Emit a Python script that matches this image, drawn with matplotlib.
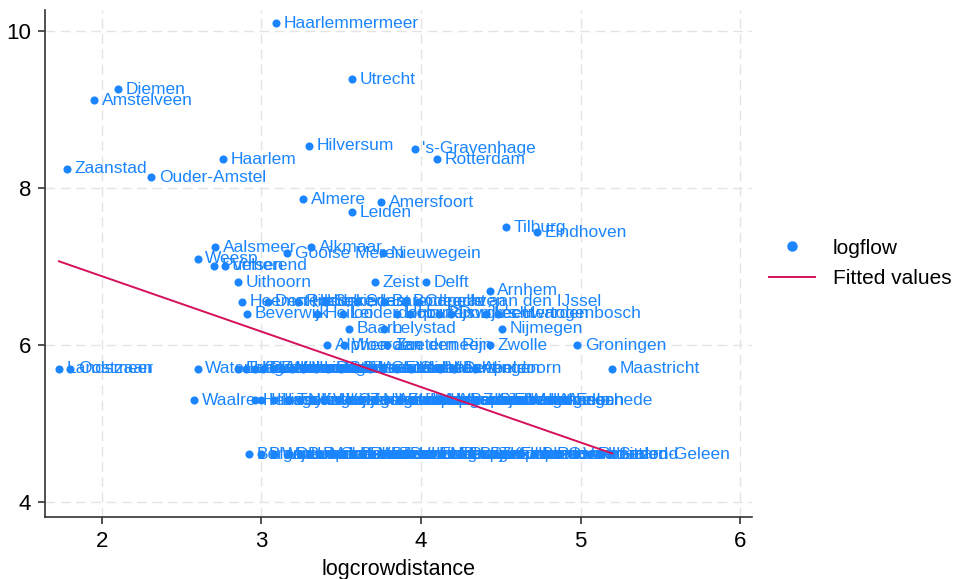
import numpy as np
import matplotlib
matplotlib.use("Agg")
import matplotlib.pyplot as plt
from matplotlib.lines import Line2D

# gemeente, logcrowdistance, logflow
towns = [
    "Haarlemmermeer", "Utrecht", "Diemen", "Amstelveen", "Hilversum",
    "'s-Gravenhage", "Rotterdam", "Haarlem", "Zaanstad", "Ouder-Amstel",
    "Almere", "Amersfoort", "Leiden", "Tilburg", "Eindhoven",
    "Aalsmeer", "Alkmaar", "Gooise Meren", "Nieuwegein", "Weesp",
    "Purmerend", "Velsen", "Uithoorn", "Zeist", "Delft", "Arnhem",
    # 6.55
    "Heemstede", "Den Helder", "Ridderkerk", "Schiedam", "Soest",
    "Barendrecht", "Bodegraven", "Capelle aan den IJssel",
    # 6.40
    "Beverwijk", "Heiloo", "Leiderdorp", "Hoorn", "Houten", "Rijswijk",
    "Dordrecht", "Leeuwarden", "'s-Hertogenbosch",
    # 6.21 / 6.00
    "Baarn", "Lelystad", "Nijmegen",
    "Alphen aan den Rijn", "Woerden", "Zoetermeer", "Zwolle", "Groningen",
]
logcrowdistance = [
    3.09, 3.57, 2.10, 1.95, 3.30,
    3.96, 4.10, 2.76, 1.78, 2.31,
    3.26, 3.75, 3.57, 4.53, 4.73,
    2.71, 3.31, 3.16, 3.76, 2.60,
    2.70, 2.77, 2.85, 3.71, 4.03, 4.43,
    2.88, 3.04, 3.23, 3.40, 3.60, 3.77, 3.90, 3.98,
    2.91, 3.35, 3.51, 3.85, 3.93, 4.11, 4.19, 4.41, 4.48,
    3.55, 3.77, 4.51,
    3.41, 3.52, 3.79, 4.43, 4.98,
]
logflow = [
    10.10, 9.39, 9.26, 9.12, 8.54,
    8.50, 8.37, 8.37, 8.25, 8.14,
    7.86, 7.82, 7.69, 7.50, 7.44,
    7.25, 7.25, 7.17, 7.17, 7.10,
    7.01, 7.01, 6.80, 6.80, 6.80, 6.69,
    6.55, 6.55, 6.55, 6.55, 6.55, 6.55, 6.55, 6.55,
    6.40, 6.40, 6.40, 6.40, 6.40, 6.40, 6.40, 6.40, 6.40,
    6.21, 6.21, 6.21,
    6.00, 6.00, 6.00, 6.00, 6.00,
]

# rij logflow = 5.70
towns_570 = [
    "Landsmeer", "Oostzaan", "Waterland", "Edam-Volendam", "Uitgeest",
    "Castricum", "Bloemendaal", "Zandvoort", "Wormerland", "Heerhugowaard",
    "Huizen", "Laren", "De Bilt", "Stichtse Vecht", "IJsselstein",
    "Veenendaal", "Gouda", "Enschede", "Sliedrecht", "Vlaardingen",
    "Deventer", "Apeldoorn", "Maastricht",
]
x_570 = [
    1.73, 1.80, 2.60, 2.85, 2.90, 2.96, 3.01, 3.07, 3.13, 3.19,
    3.26, 3.34, 3.42, 3.50, 3.59, 3.68, 3.76, 3.85, 3.94, 4.12,
    4.21, 4.34, 5.20,
]

# rij logflow = 5.30
towns_530 = [
    "Waalre", "Heemskerk", "Hillegom", "Lisse", "Teylingen", "Noordwijk",
    "Katwijk", "Wassenaar", "Voorschoten", "Oegstgeest", "Zoeterwoude",
    "Nieuwkoop", "Waddinxveen", "Zuidplas", "Lansingerland", "Westland",
    "Maassluis", "Albrandswaard", "Papendrecht", "Zwijndrecht", "Gorinchem",
    "Ede", "Wageningen", "Hengelo", "Almelo", "Assen", "Enschede",
]
x_530 = [
    2.58, 2.96, 3.00, 3.08, 3.17, 3.24, 3.32, 3.40, 3.48, 3.55, 3.63,
    3.71, 3.79, 3.87, 3.94, 4.03, 4.11, 4.18, 4.26, 4.34, 4.43, 4.53,
    4.62, 4.71, 4.81, 4.87, 4.92,
]

# rij logflow = 4.61
towns_461 = [
    "Bergen", "Blaricum", "Wijdemeren", "De Ronde Venen", "Bunnik",
    "Lopik", "Montfoort", "Oudewater", "Leusden", "Bunschoten",
    "Rhenen", "Woudenberg", "Renswoude", "Zeewolde", "Dronten", "Urk",
    "Harderwijk", "Ermelo", "Nunspeet", "Elburg", "Putten", "Barneveld",
    "Renkum", "Zutphen", "Kampen", "Emmen", "Heerenveen", "Breda",
    "Roosendaal", "Oss", "Venlo", "Roermond", "Heerlen", "Sittard-Geleen",
]
x_461 = [
    2.92, 3.00, 3.08, 3.17, 3.24, 3.30, 3.37, 3.44, 3.50, 3.57, 3.63,
    3.69, 3.76, 3.82, 3.88, 3.94, 4.01, 4.07, 4.13, 4.19, 4.26, 4.32,
    4.38, 4.45, 4.51, 4.57, 4.63, 4.71, 4.80, 4.87, 4.97, 5.06, 5.12,
    5.19,
]

fit_intercept = 8.29
fit_slope = -0.706

blue = "#1a85ff"
red = "#d5115a"

names = towns + towns_570 + towns_530 + towns_461
x = np.array(logcrowdistance + x_570 + x_530 + x_461)
y = np.array(logflow + [5.70] * len(x_570) + [5.30] * len(x_530) + [4.61] * len(x_461))

plt.rcParams["font.family"] = "Liberation Sans"

fig = plt.figure(figsize=(9.56, 5.79), dpi=100)
ax = fig.add_axes([45 / 956, 1 - 517 / 579, (752 - 45) / 956, (517 - 10) / 579])

ax.scatter(x, y, s=34, color=blue, zorder=3, linewidths=0)
for n, xi, yi in zip(names, x, y):
    ax.annotate(n, (xi, yi), xytext=(5.5, 0), textcoords="offset points",
                va="center", ha="left", color=blue, fontsize=12.5, zorder=4)

xf = np.array([x.min(), x.max()])
ax.plot(xf, fit_intercept + fit_slope * xf, color=red, lw=1.4, zorder=5)

ax.set_xlim(1.643, 6.075)
ax.set_ylim(3.81, 10.27)
ax.set_xticks([2, 3, 4, 5, 6])
ax.set_yticks([4, 6, 8, 10])
ax.grid(True, color="#e4e4e4", linestyle=(0, (7, 4)), linewidth=1)
ax.set_axisbelow(True)

for s in ["top", "right"]:
    ax.spines[s].set_visible(False)
for s in ["left", "bottom"]:
    ax.spines[s].set_color("#333333")
    ax.spines[s].set_linewidth(1.2)

ax.tick_params(length=5, width=1.2, color="#333333", labelsize=16, pad=5)
ax.set_xlabel("logcrowdistance", fontsize=15.5, labelpad=5)

handles = [
    Line2D([], [], marker="o", linestyle="none", color=blue, markersize=6.5),
    Line2D([], [], color=red, lw=1.4),
]
ax.legend(handles, ["logflow", "Fitted values"], loc="center left",
          bbox_to_anchor=(0.998, 0.5), frameon=False, fontsize=15,
          handlelength=2.2, handletextpad=0.85, labelspacing=0.55)

fig.savefig("out.png", dpi=100)
